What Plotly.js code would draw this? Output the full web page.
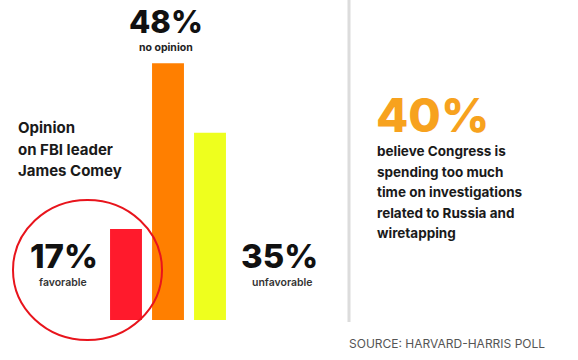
<!DOCTYPE html>
<html><head><meta charset="utf-8">
<script src="https://cdn.plot.ly/plotly-3.0.1.min.js"></script>
<style>html,body{margin:0;padding:0;background:#fff}#c{width:578px;height:360px}</style>
</head><body><div id="c"></div>
<script>
const categories = ["favorable", "no opinion", "unfavorable"];
const values = [17, 48, 35];
const valueLabels = ["17%", "48%", "35%"];
const barColors = ["#ff1a2c", "#ff7f00", "#eeff1e"];
const headline = "40%";
const headlineText = ["believe Congress is", "spending too much", "time on investigations", "related to Russia and", "wiretapping"];
const titleLines = ["Opinion", "on FBI leader", "James Comey"];
const source = "SOURCE: HARVARD-HARRIS POLL";

const F = "Inter, 'DejaVu Sans', sans-serif";
const W = 578, H = 360;
const px = x => x / W, py = y => (H - y) / H;

const trace = {
  type: "bar", x: categories, y: values,
  marker: {color: barColors, line: {width: 0}},
  hoverinfo: "skip"
};

const big = (x, y, t, size, color) => ({xref: "paper", yref: "paper", x: px(x), y: py(y), text: t,
  showarrow: false, xanchor: "center", yanchor: "middle", font: {family: F, size: size, weight: 800, color: color || "#111"}});
const small = (x, y, t, size, anchor, color, weight) => ({xref: "paper", yref: "paper", x: px(x), y: py(y), text: t,
  showarrow: false, xanchor: anchor || "center", yanchor: "middle", font: {family: F, size: size, weight: weight || 700, color: color || "#222"}});

const ann = [];
ann.push(big(166, 21, valueLabels[1], 31));
ann.push(small(166, 47.5, categories[1], 10.5));
ann.push(big(64, 256, valueLabels[0], 33));
ann.push(small(63, 282, categories[0], 10.5, "center", "#333", 600));
ann.push(big(279, 256, valueLabels[2], 33));
ann.push(small(282, 282, categories[2], 10.5, "center", "#333", 600));
titleLines.forEach((t, i) => ann.push(small(16, 128 + i * 21, t, 15, "left", "#1a1a1a")));
ann.push({xref: "paper", yref: "paper", x: px(374), y: py(115), text: headline,
  showarrow: false, xanchor: "left", yanchor: "middle", font: {family: F, size: 47, weight: 800, color: "#f7a21e"}});
headlineText.forEach((t, i) => ann.push(small(375, 151 + i * 20.5, t, 13.5, "left", "#1a1a1a")));
ann.push(small(347, 343, source, 12, "left", "#555", 400));

const layout = {
  width: W, height: H, margin: {l: 0, r: 0, t: 0, b: 0},
  paper_bgcolor: "#fff", plot_bgcolor: "rgba(0,0,0,0)",
  showlegend: false, bargap: 0.24,
  xaxis: {domain: [px(105), px(231)], range: [-0.5, 2.5], visible: false, fixedrange: true},
  yaxis: {domain: [py(320), 1], range: [0, 59.8], visible: false, fixedrange: true},
  annotations: ann,
  shapes: [
    {type: "line", xref: "paper", yref: "paper", x0: px(349), x1: px(349), y0: py(322), y1: 1,
      line: {color: "#dcdcdc", width: 3}},
    {type: "circle", xref: "paper", yref: "paper", x0: px(13), x1: px(162), y0: py(340), y1: py(200),
      line: {color: "#e8141c", width: 2}}
  ]
};
Plotly.newPlot("c", [trace], layout, {displayModeBar: false, staticPlot: true});
</script></body></html>
